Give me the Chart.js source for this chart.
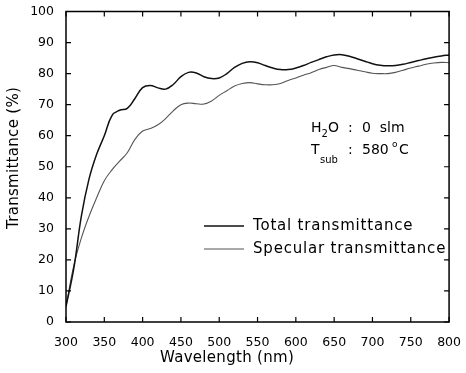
<!DOCTYPE html>
<html>
<head>
<meta charset="utf-8">
<script src="https://cdn.jsdelivr.net/npm/chart.js@4.4.1/dist/chart.umd.min.js"></script>
<style>
  html, body { margin: 0; padding: 0; background: #fff; }
  #wrap { width: 466px; height: 373px; position: relative; }
</style>
</head>
<body>
<div id="wrap"><canvas id="chart"></canvas></div>
<script>
// ===============================
// Data
// ===============================
const wavelengths = [300, 310, 320, 330, 340, 350, 360, 370, 380, 390,
  400, 410, 420, 430, 440, 450, 460, 470, 480, 490,
  500, 510, 520, 530, 540, 550, 560, 570, 580, 590,
  600, 610, 620, 630, 640, 650, 660, 670, 680, 690,
  700, 710, 720, 730, 740, 750, 760, 770, 780, 790, 800];

const totalT = [5, 17, 34, 46, 54, 60, 66.5, 68.2, 68.8, 72,
  75.5, 76.2, 75.4, 75, 76.5, 79, 80.4, 80.2, 79, 78.4,
  78.6, 80, 82, 83.3, 83.8, 83.5, 82.6, 81.8, 81.3, 81.3,
  81.8, 82.6, 83.6, 84.5, 85.4, 86, 86.1, 85.6, 84.8, 84,
  83.2, 82.7, 82.5, 82.6, 83, 83.6, 84.2, 84.8, 85.3, 85.7, 86];

const specularT = [5, 18, 27, 34, 40, 45.5, 49, 51.8, 54.5, 58.8,
  61.5, 62.3, 63.5, 65.5, 68, 70, 70.5, 70.3, 70.2, 71.2,
  73, 74.5, 76, 76.8, 77.1, 76.7, 76.4, 76.4, 76.8, 77.8,
  78.6, 79.5, 80.3, 81.3, 82, 82.6, 82, 81.6, 81.1, 80.6,
  80.1, 80, 80, 80.4, 81.1, 81.8, 82.4, 83, 83.4, 83.6, 83.5];

const seriesNames = ["Total transmittance", "Specular transmittance"];
const xTitle = "Wavelength (nm)";
const yTitle = "Transmittance (%)";

const FONT = "DejaVu Sans";

// ===============================
// Frame, inward ticks, legend, notes
// ===============================
const framePlugin = {
  id: "frame",
  afterDraw(chart) {
    const { ctx, chartArea: a, scales } = chart;
    ctx.save();
    ctx.strokeStyle = "#000";
    ctx.lineWidth = 1.5;
    ctx.strokeRect(a.left, a.top, a.right - a.left, a.bottom - a.top);

    // inward ticks on all four sides
    ctx.lineWidth = 1.2;
    const tl = 5;
    scales.x.ticks.forEach(t => {
      const px = scales.x.getPixelForValue(t.value);
      ctx.beginPath();
      ctx.moveTo(px, a.bottom); ctx.lineTo(px, a.bottom - tl);
      ctx.moveTo(px, a.top); ctx.lineTo(px, a.top + tl);
      ctx.stroke();
    });
    scales.y.ticks.forEach(t => {
      const py = scales.y.getPixelForValue(t.value);
      ctx.beginPath();
      ctx.moveTo(a.left, py); ctx.lineTo(a.left + tl, py);
      ctx.moveTo(a.right, py); ctx.lineTo(a.right - tl, py);
      ctx.stroke();
    });

    // axis titles
    ctx.fillStyle = "#000";
    ctx.font = "15px '" + FONT + "'";
    ctx.letterSpacing = "0.3px";
    ctx.textAlign = "center";
    ctx.textBaseline = "middle";
    ctx.fillText(xTitle, 227, 358);
    ctx.save();
    ctx.translate(14, 158);
    ctx.rotate(-Math.PI / 2);
    ctx.fillText(yTitle, 0, 0);
    ctx.restore();

    // legend
    ctx.textAlign = "left";
    ctx.letterSpacing = "0.8px";
    chart.data.datasets.forEach((ds, i) => {
      const y = 226 + i * 23;
      ctx.strokeStyle = ds.borderColor;
      ctx.lineWidth = ds.borderWidth;
      ctx.beginPath();
      ctx.moveTo(204, y); ctx.lineTo(244, y);
      ctx.stroke();
      ctx.fillText(ds.label, 253, y);
    });

    // conditions
    ctx.letterSpacing = "0px";
    ctx.textBaseline = "alphabetic";
    ctx.font = "14px '" + FONT + "'";
    let x = 311;
    ctx.fillText("H", x, 132);
    x += ctx.measureText("H").width;
    ctx.font = "10px '" + FONT + "'";
    ctx.fillText("2", x, 137);
    x += ctx.measureText("2").width;
    ctx.font = "14px '" + FONT + "'";
    ctx.fillText("O", x, 132);
    ctx.fillText(":", 348, 132);
    ctx.fillText("0  slm", 362, 132);

    ctx.fillText("T", 311, 154);
    ctx.font = "10px '" + FONT + "'";
    ctx.fillText("sub", 320, 163);
    ctx.font = "14px '" + FONT + "'";
    ctx.fillText(":", 348, 154);
    ctx.fillText("580", 362, 154);
    ctx.font = "9px '" + FONT + "'";
    ctx.fillText("o", 392, 147);
    ctx.font = "14px '" + FONT + "'";
    ctx.fillText("C", 399, 154);
    ctx.restore();
  }
};

// ===============================
// Chart
// ===============================
const ctx = document.getElementById("chart");
new Chart(ctx, {
  type: "line",
  data: {
    datasets: [
      {
        label: seriesNames[0],
        data: wavelengths.map((w, i) => ({ x: w, y: totalT[i] })),
        borderColor: "#111",
        borderWidth: 1.5,
        pointRadius: 0,
        tension: 0.4,
        fill: false
      },
      {
        label: seriesNames[1],
        data: wavelengths.map((w, i) => ({ x: w, y: specularT[i] })),
        borderColor: "#555",
        borderWidth: 1.1,
        pointRadius: 0,
        tension: 0.4,
        fill: false
      }
    ]
  },
  options: {
    responsive: true,
    maintainAspectRatio: false,
    animation: false,
    layout: { padding: { top: 10, right: 12, left: 0, bottom: 0 } },
    plugins: {
      legend: { display: false },
      tooltip: { enabled: false }
    },
    scales: {
      x: {
        type: "linear",
        min: 300,
        max: 800,
        ticks: {
          stepSize: 50,
          color: "#000",
          padding: 5,
          maxRotation: 0,
          font: { family: FONT, size: 12.5 }
        },
        grid: { display: false },
        border: { display: false },
        afterFit: s => { s.height = 51; }
      },
      y: {
        min: 0,
        max: 100,
        ticks: {
          stepSize: 10,
          color: "#000",
          padding: 4,
          font: { family: FONT, size: 12.5 }
        },
        grid: { display: false },
        border: { display: false },
        afterFit: s => { s.width = 66; }
      }
    }
  },
  plugins: [framePlugin]
});
</script>
</body>
</html>
